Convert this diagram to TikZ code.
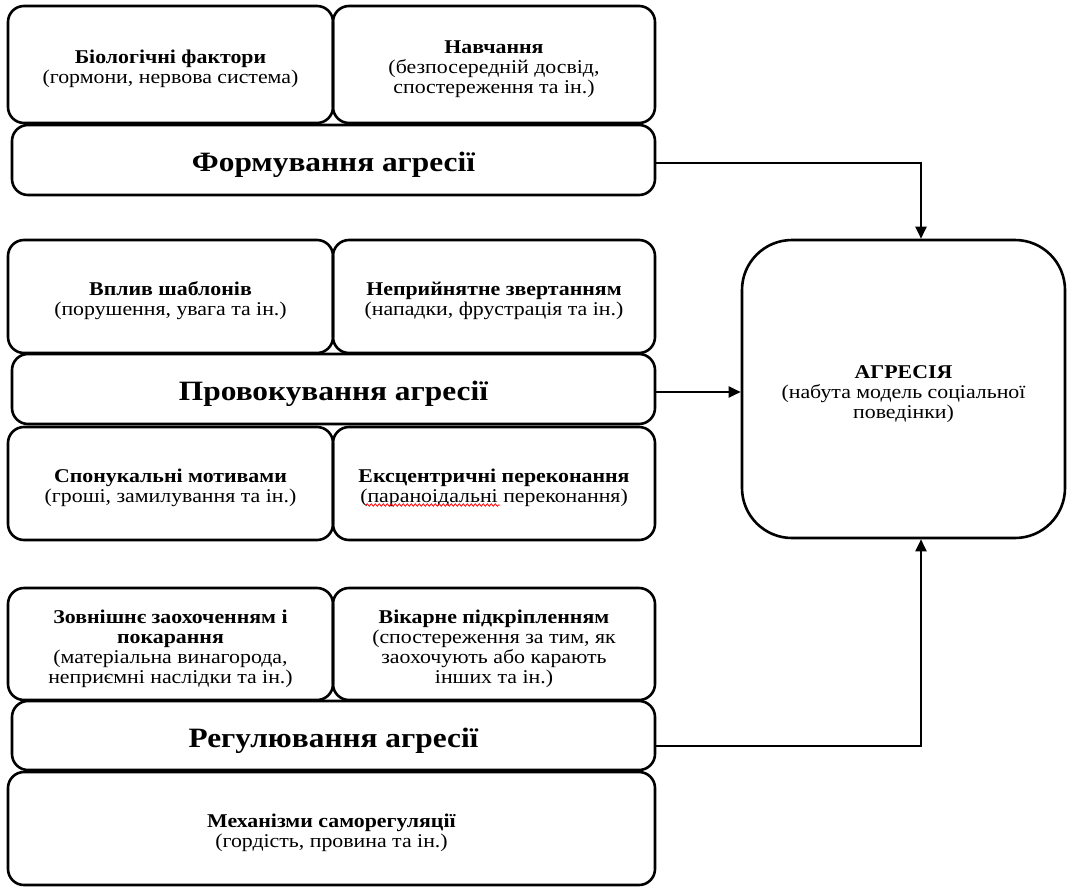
\documentclass[tikz,border=0pt]{standalone}
\usepackage{fontspec}
\setmainfont{Liberation Serif}[FakeStretch=1.12]
\usetikzlibrary{arrows.meta,decorations.pathmorphing}
% bold first line of a box, with extra head room above it
\newcommand\ttl[1]{\rule{0pt}{23pt}\textbf{#1}}
\begin{document}
\begin{tikzpicture}[x=1pt,y=-1pt,
  frame/.style={draw,line width=2.6pt,rounded corners=16pt,align=center,inner sep=0pt},
  box/.style={frame,font=\fontsize{19.5}{20}\selectfont},
  head/.style={frame,font=\fontsize{28}{30}\selectfont\bfseries,
    execute at begin node={\rule{0pt}{30pt}}},
  conn/.style={line width=2pt,-{Triangle[length=12pt,width=11pt]}},
  spell/.style={red,line width=0.8pt,decorate,decoration={snake,amplitude=1.2pt,segment length=4pt}}
]
\useasboundingbox (0,0) rectangle (1073,886);

% formation block
\node[box,minimum width=325pt,minimum height=117pt] (bio) at (170.5,64.5)
  {\ttl{Біологічні фактори}\\(гормони, нервова система)};
\node[box,minimum width=322pt,minimum height=117pt] (nav) at (494,64.5)
  {\ttl{Навчання}\\(безпосередній досвід,\\спостереження та ін.)};
\node[head,minimum width=643pt,minimum height=70pt] (form) at (333.5,160)
  {Формування агресії};

% provocation block
\node[box,minimum width=325pt,minimum height=113pt] (vpl) at (170.5,296.5)
  {\ttl{Вплив шаблонів}\\(порушення, увага та ін.)};
\node[box,minimum width=322pt,minimum height=113pt] (nepr) at (494,296.5)
  {\ttl{Неприйнятне звертанням}\\(нападки, фрустрація та ін.)};
\node[head,minimum width=643pt,minimum height=70pt] (prov) at (333.5,389)
  {Провокування агресії};
\node[box,minimum width=325pt,minimum height=113pt] (spon) at (170.5,483.5)
  {\ttl{Спонукальні мотивами}\\(гроші, замилування та ін.)};
\node[box,minimum width=322pt,minimum height=113pt] (eksc) at (494,483.5)
  {\ttl{Ексцентричні переконання}\\(параноідальні переконання)};
\draw[spell] (366,505) -- (500,505);

% regulation block
\node[box,minimum width=325pt,minimum height=112pt] (zovn) at (170.5,644)
  {\ttl{Зовнішнє заохоченням і}\\\textbf{покарання}\\(матеріальна винагорода,\\неприємні наслідки та ін.)};
\node[box,minimum width=322pt,minimum height=112pt] (vik) at (494,644)
  {\ttl{Вікарне підкріпленням}\\(спостереження за тим, як\\заохочують або карають\\інших та ін.)};
\node[head,minimum width=643pt,minimum height=69pt] (reg) at (333.5,735.5)
  {Регулювання агресії};
\node[box,minimum width=647pt,minimum height=113pt] (mech) at (331.5,828.5)
  {\ttl{Механізми саморегуляції}\\(гордість, провина та ін.)};

% outcome
\node[box,rounded corners=50pt,minimum width=323pt,minimum height=298pt] (agr) at (903.5,389)
  {\ttl{АГРЕСІЯ}\\(набута модель соціальної\\поведінки)};

% connectors
\coordinate (ax) at (921,0);
\draw[conn] ([yshift=-3pt]form.east) -| (ax |- agr.north);
\draw[conn] ([yshift=-3pt]prov.east) -- ([yshift=-3pt]agr.west);
\draw[conn] ([yshift=-10pt]reg.east) -| (ax |- agr.south);
\end{tikzpicture}
\end{document}
